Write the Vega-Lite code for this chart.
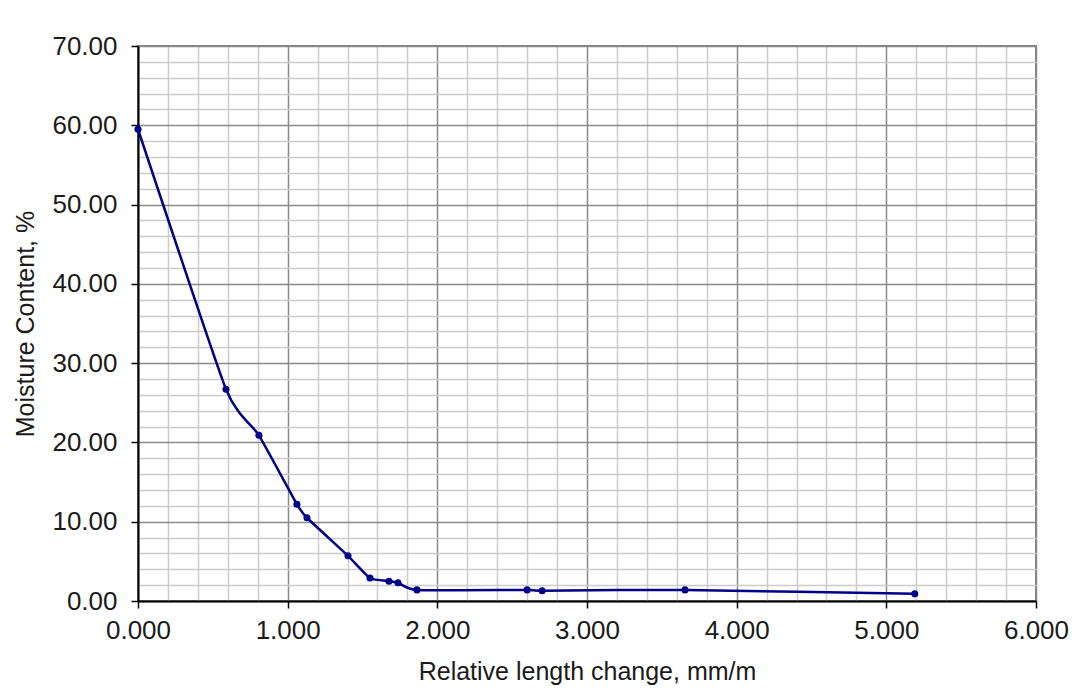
{
  "$schema": "https://vega.github.io/schema/vega-lite/v6.json",
  "autosize": {"type": "none"},
  "width": 898,
  "height": 555,
  "padding": {"left": 138, "top": 46, "right": 52, "bottom": 92},
  "background": "white",
  "config": {
    "font": "Liberation Sans",
    "view": {"stroke": "#808080", "strokeWidth": 2}
  },
  "data": {
    "values": [
      {"x": 0.0, "y": 59.5},
      {"x": 0.588, "y": 26.7},
      {"x": 0.808, "y": 20.9},
      {"x": 1.062, "y": 12.2},
      {"x": 1.129, "y": 10.5},
      {"x": 1.403, "y": 5.7},
      {"x": 1.55, "y": 2.9},
      {"x": 1.677, "y": 2.5},
      {"x": 1.737, "y": 2.3},
      {"x": 1.864, "y": 1.4},
      {"x": 2.6, "y": 1.4},
      {"x": 2.7, "y": 1.3},
      {"x": 3.655, "y": 1.4},
      {"x": 5.19, "y": 0.9}
    ]
  },
  "encoding": {
    "x": {
      "field": "x", "type": "quantitative",
      "scale": {"domain": [0, 6], "nice": false, "zero": false},
      "axis": {
        "title": "Relative length change, mm/m",
        "values": [0,0.2,0.4,0.6,0.8,1,1.2,1.4,1.6,1.8,2,2.2,2.4,2.6,2.8,3,3.2,3.4,3.6,3.8,4,4.2,4.4,4.6,4.8,5,5.2,5.4,5.6,5.8,6],
        "labelExpr": "abs(datum.value - round(datum.value)) < 0.001 ? format(datum.value, '.3f') : ''",
        "grid": true,
        "gridColor": {"condition": {"test": "abs(datum.value - round(datum.value)) < 0.001", "value": "#8a8a8a"}, "value": "#cccccc"},
        "gridWidth": 1.5,
        "tickOpacity": {"condition": {"test": "abs(datum.value - round(datum.value)) < 0.001", "value": 1}, "value": 0},
        "tickColor": "#000000",
        "tickSize": 7,
        "tickWidth": 1.5,
        "domainColor": "#000000",
        "domainWidth": 2,
        "labelFontSize": 26,
        "labelColor": "#1a1a1a",
        "labelPadding": 9,
        "labelFlush": false,
        "labelOverlap": false,
        "titleFontSize": 25,
        "titleFontWeight": "normal",
        "titleColor": "#1a1a1a",
        "titlePadding": 16
      }
    },
    "y": {
      "field": "y", "type": "quantitative",
      "scale": {"domain": [0, 70], "nice": false},
      "axis": {
        "title": "Moisture Content, %",
        "values": [0,2,4,6,8,10,12,14,16,18,20,22,24,26,28,30,32,34,36,38,40,42,44,46,48,50,52,54,56,58,60,62,64,66,68,70],
        "labelExpr": "datum.value % 10 === 0 ? format(datum.value, '.2f') : ''",
        "grid": true,
        "gridColor": {"condition": {"test": "datum.value % 10 === 0", "value": "#8a8a8a"}, "value": "#cccccc"},
        "gridWidth": 1.5,
        "tickOpacity": {"condition": {"test": "datum.value % 10 === 0", "value": 1}, "value": 0},
        "tickColor": "#000000",
        "tickSize": 7,
        "tickWidth": 1.5,
        "domainColor": "#000000",
        "domainWidth": 2,
        "labelFontSize": 26,
        "labelColor": "#1a1a1a",
        "labelPadding": 14,
        "labelFlush": false,
        "labelOverlap": false,
        "titleFontSize": 25,
        "titleFontWeight": "normal",
        "titleColor": "#1a1a1a",
        "titlePadding": 13
      }
    }
  },
  "layer": [
    {"mark": {"type": "line", "color": "#000088", "strokeWidth": 2.5, "interpolate": "cardinal", "tension": 0.5}},
    {"mark": {"type": "point", "filled": true, "color": "#000088", "opacity": 1, "size": 50}}
  ]
}
